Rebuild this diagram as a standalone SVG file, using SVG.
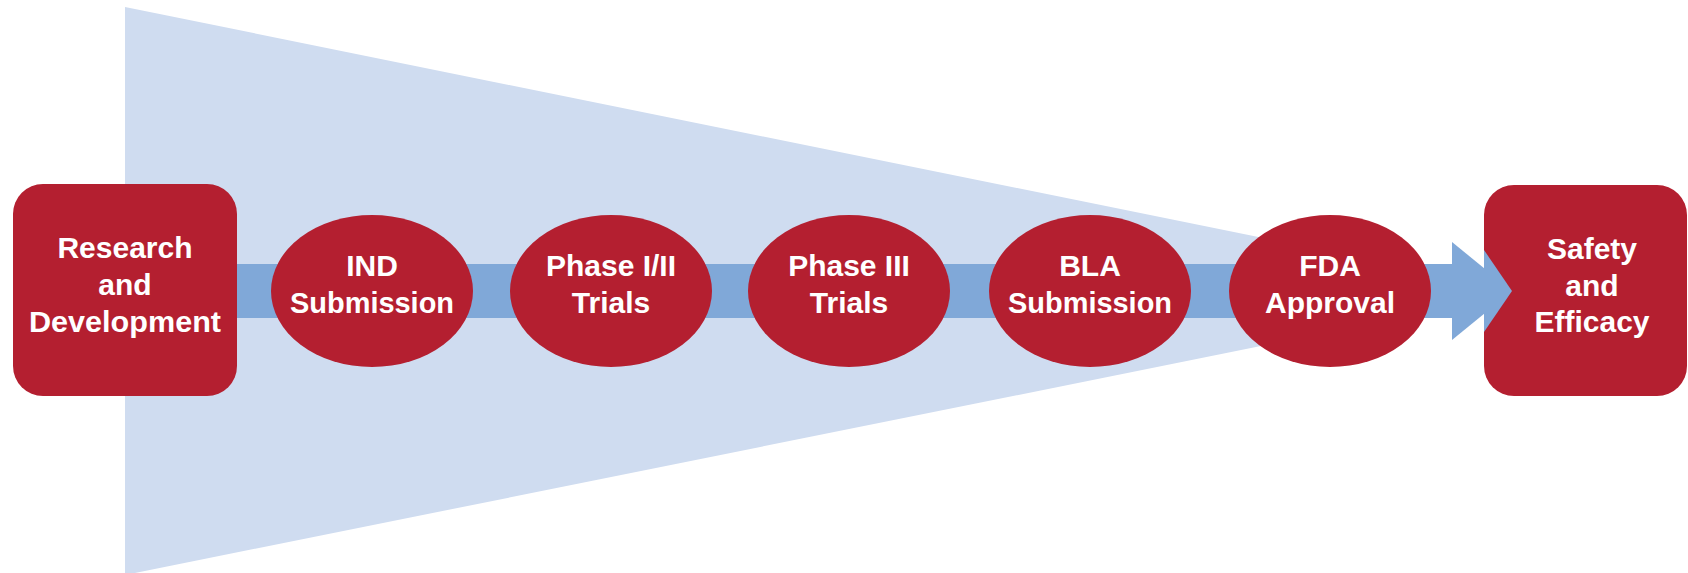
<svg xmlns="http://www.w3.org/2000/svg" width="1688" height="573" viewBox="0 0 1688 573">
<style>
.box{fill:#b41f30;}
.ell{fill:#b41f30;}
.t{font-family:"Liberation Sans",Arial,sans-serif;font-weight:bold;font-size:30px;fill:#ffffff;text-anchor:middle;}
</style>
<rect width="1688" height="573" fill="#ffffff"/>
<polygon points="125,7 1529,292 125,575" fill="#cfdcf0"/>
<g id="connectors">
<rect x="230" y="264" width="1224" height="54" fill="#80a8d8"/>
<polygon points="1452,242 1512,291 1452,340" fill="#80a8d8"/>
</g>
<g id="rd">
<rect class="box" x="13" y="184" width="224" height="212" rx="30"/>
<text class="t" x="125" y="258">Research</text>
<text class="t" x="125" y="295">and</text>
<text class="t" x="125" y="332" textLength="192" lengthAdjust="spacingAndGlyphs">Development</text>
</g>
<g id="ind">
<ellipse class="ell" cx="372" cy="291" rx="101" ry="76"/>
<text class="t" x="372" y="276">IND</text>
<text class="t" x="372" y="313" textLength="164" lengthAdjust="spacingAndGlyphs">Submission</text>
</g>
<g id="phase12">
<ellipse class="ell" cx="611" cy="291" rx="101" ry="76"/>
<text class="t" x="611" y="276">Phase I/II</text>
<text class="t" x="611" y="313">Trials</text>
</g>
<g id="phase3">
<ellipse class="ell" cx="849" cy="291" rx="101" ry="76"/>
<text class="t" x="849" y="276">Phase III</text>
<text class="t" x="849" y="313">Trials</text>
</g>
<g id="bla">
<ellipse class="ell" cx="1090" cy="291" rx="101" ry="76"/>
<text class="t" x="1090" y="276">BLA</text>
<text class="t" x="1090" y="313" textLength="164" lengthAdjust="spacingAndGlyphs">Submission</text>
</g>
<g id="fda">
<ellipse class="ell" cx="1330" cy="291" rx="101" ry="76"/>
<text class="t" x="1330" y="276">FDA</text>
<text class="t" x="1330" y="313">Approval</text>
</g>
<g id="safety">
<rect class="box" x="1484" y="185" width="203" height="211" rx="30"/>
<text class="t" x="1592" y="259">Safety</text>
<text class="t" x="1592" y="296">and</text>
<text class="t" x="1592" y="332">Efficacy</text>
</g>
<polygon points="1484,250 1512,291 1484,332" fill="#80a8d8"/>
</svg>
